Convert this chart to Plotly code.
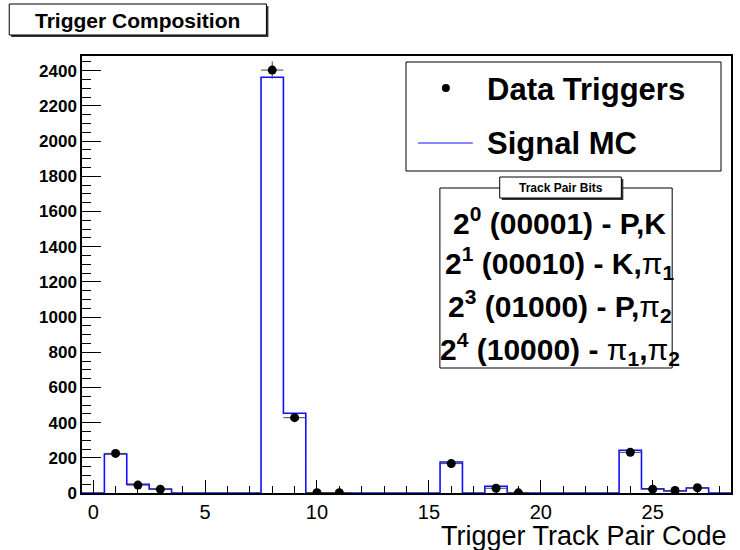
import numpy as np
import plotly.graph_objects as go

# Trigger track pair codes (bins 0..28, width 1)
codes = list(range(29))

# Signal MC expectation per code
mc_counts = [0, 222, 50, 23, 0, 0, 0, 0, 2362, 453,
             0, 0, 0, 0, 0, 0, 176, 0, 38, 0,
             0, 0, 0, 0, 243, 24, 12, 28, 0]

# Observed data triggers (non-empty codes only)
data_codes = [1, 2, 3, 8, 9, 10, 11, 16, 18, 19, 24, 25, 26, 27]
data_counts = [225, 45, 21, 2403, 428, 2, 2, 167, 27, 1, 231, 22, 14, 30]

# Legend and info-box text
legend_labels = ["Data Triggers", "Signal MC"]
bits_title = "Track Pair Bits"
bits_lines = [
    "<b>2<sup>0</sup> (00001) - P,K</b>",
    "<b>2<sup>1</sup> (00010) - K,</b>\u03c0<sub><b>1</b></sub>",
    "<b>2<sup>3</sup> (01000) - P,</b>\u03c0<sub><b>2</b></sub>",
    "<b>2<sup>4</sup> (10000) - </b>\u03c0<sub><b>1</b></sub><b>,</b>\u03c0<sub><b>2</b></sub>",
]
x_title = "Trigger Track Pair Code"
plot_title = "Trigger Composition"

FONT = "Liberation Sans, Arial, Helvetica, sans-serif"
W, H = 740, 550
L, R, T, B = 82, 7, 56, 57
PW, PH = W - L - R, H - T - B


def px(x):
    return (x - L) / PW


def py(y):
    return (H - B - y) / PH


# histogram outline from bin edges
mc = np.array(mc_counts, dtype=float)
edges = np.arange(len(codes) + 1) - 0.5
step_x = np.concatenate([[edges[0]], edges])
step_y = np.concatenate([[0.0], mc, [mc[-1]]])

dc = np.array(data_counts, dtype=float)
derr = np.sqrt(dc)

fig = go.Figure()

fig.add_trace(go.Scatter(
    x=step_x, y=step_y, mode="lines", line_shape="hv",
    line=dict(color="#1010ff", width=1.6), showlegend=False,
    hoverinfo="skip",
))

fig.add_trace(go.Scatter(
    x=data_codes, y=dc, mode="markers",
    marker=dict(color="black", size=9),
    error_y=dict(type="data", array=derr, width=0, color="#444", thickness=1),
    error_x=dict(type="constant", value=0.5, width=0, color="#444", thickness=1),
    showlegend=False,
))

shapes = []
annotations = []

# title box with drop shadow
shapes.append(dict(type="rect", xref="paper", yref="paper",
                   x0=px(11), x1=px(269), y0=py(37), y1=py(6),
                   fillcolor="#333", line=dict(width=0), layer="above"))
shapes.append(dict(type="rect", xref="paper", yref="paper",
                   x0=px(9), x1=px(267), y0=py(35), y1=py(4),
                   fillcolor="white", line=dict(color="black", width=1), layer="above"))
annotations.append(dict(text="<b>%s</b>" % plot_title, xref="paper", yref="paper",
                        x=px(138), y=py(20), showarrow=False,
                        font=dict(family=FONT, size=21, color="black"),
                        xanchor="center", yanchor="middle"))

# legend box
shapes.append(dict(type="rect", xref="paper", yref="paper",
                   x0=px(407), x1=px(723), y0=py(171), y1=py(62),
                   fillcolor="white", line=dict(color="black", width=1), layer="above"))
shapes.append(dict(type="circle", xref="paper", yref="paper",
                   x0=px(443), x1=px(451), y0=py(92), y1=py(84),
                   fillcolor="black", line=dict(color="black", width=0), layer="above"))
shapes.append(dict(type="line", xref="paper", yref="paper",
                   x0=px(419), x1=px(474), y0=py(143), y1=py(143),
                   line=dict(color="#1010ff", width=1.2), layer="above"))
for lbl, yy in zip(legend_labels, [90, 143]):
    annotations.append(dict(text="<b>%s</b>" % lbl, xref="paper", yref="paper",
                            x=px(486), y=py(yy), showarrow=False,
                            font=dict(family=FONT, size=31, color="black"),
                            xanchor="left", yanchor="middle"))

# track pair bits box
shapes.append(dict(type="rect", xref="paper", yref="paper",
                   x0=px(441), x1=px(674), y0=py(368), y1=py(188),
                   fillcolor="white", line=dict(color="black", width=1), layer="above"))
shapes.append(dict(type="rect", xref="paper", yref="paper",
                   x0=px(503), x1=px(625), y0=py(200), y1=py(179),
                   fillcolor="#333", line=dict(width=0), layer="above"))
shapes.append(dict(type="rect", xref="paper", yref="paper",
                   x0=px(501), x1=px(623), y0=py(198), y1=py(177),
                   fillcolor="white", line=dict(color="black", width=1), layer="above"))
annotations.append(dict(text="<b>%s</b>" % bits_title, xref="paper", yref="paper",
                        x=px(562), y=py(187.5), showarrow=False,
                        font=dict(family=FONT, size=12, color="black"),
                        xanchor="center", yanchor="middle"))
for line, yy in zip(bits_lines, [221, 263, 306, 349]):
    annotations.append(dict(text=line, xref="paper", yref="paper",
                            x=px(561), y=py(yy), showarrow=False,
                            font=dict(family=FONT, size=30, color="black"),
                            xanchor="center", yanchor="middle"))

# x-axis title, right aligned below the tick labels
annotations.append(dict(text=x_title, xref="paper", yref="paper",
                        x=px(731), y=py(536), showarrow=False,
                        font=dict(family=FONT, size=27, color="black"),
                        xanchor="right", yanchor="middle"))

fig.update_layout(
    width=W, height=H,
    margin=dict(l=L, r=R, t=T, b=B, pad=0),
    paper_bgcolor="white", plot_bgcolor="white",
    shapes=shapes, annotations=annotations,
    showlegend=False,
    font=dict(family=FONT, color="black"),
)

fig.update_xaxes(
    range=[-0.5, 28.5], tickvals=[0, 5, 10, 15, 20, 25],
    ticks="inside", ticklen=13, tickwidth=1, tickcolor="black",
    minor=dict(ticks="inside", ticklen=7, dtick=1, tickcolor="black", tickwidth=1),
    showline=True, linecolor="black", linewidth=1.5, mirror=True,
    showgrid=False, zeroline=False,
    tickfont=dict(family=FONT, size=20, color="black"),
)
fig.update_yaxes(
    range=[0, 2483], dtick=200, tick0=0,
    ticks="inside", ticklen=19, tickwidth=1, tickcolor="black",
    minor=dict(ticks="inside", ticklen=9, dtick=50, tickcolor="black", tickwidth=1),
    showline=True, linecolor="black", linewidth=1.5, mirror=True,
    showgrid=False, zeroline=False,
    tickfont=dict(family=FONT, size=17, color="black", weight="bold"),
)

fig.write_html("out.html")
